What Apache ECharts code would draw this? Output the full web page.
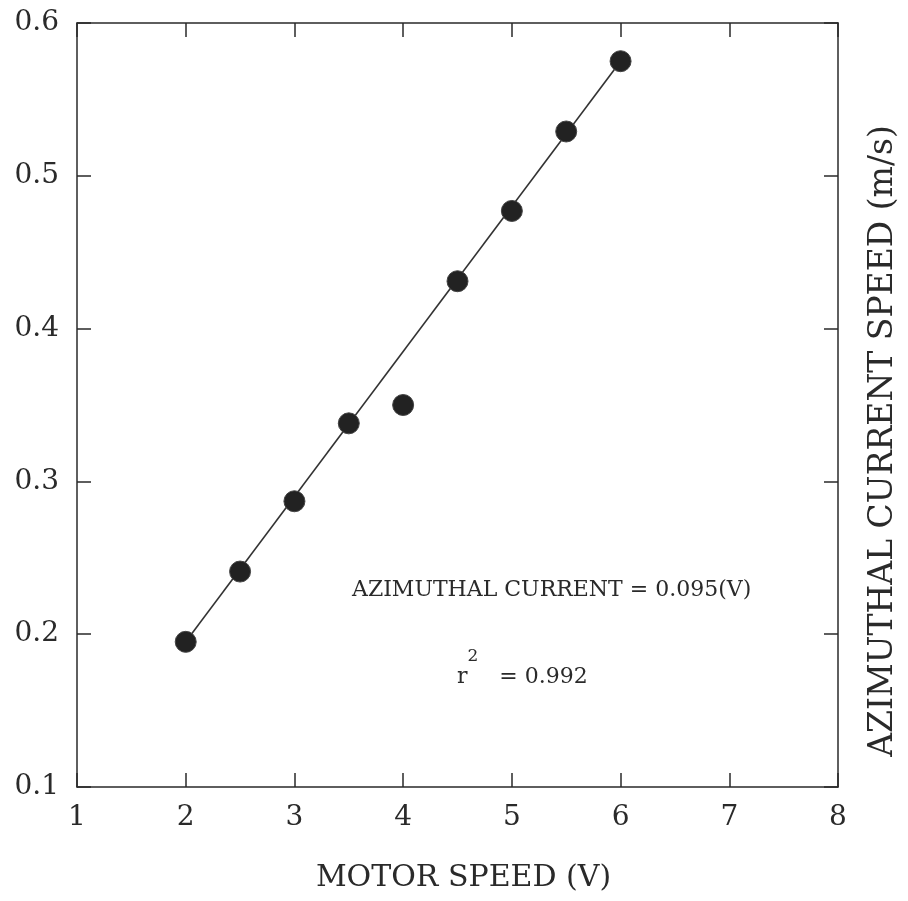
<!DOCTYPE html>
<html>
<head>
<meta charset="utf-8">
<script src="https://cdn.jsdelivr.net/npm/echarts@6/dist/echarts.min.js"></script>
<style>html,body{margin:0;padding:0;background:#fff;}#c{width:908px;height:901px;}</style>
</head>
<body>
<div id="c"></div>
<script>
// Data
const motorSpeed = [2, 2.5, 3, 3.5, 4, 4.5, 5, 5.5, 6];
const currentSpeed = [0.195, 0.241, 0.287, 0.338, 0.350, 0.431, 0.477, 0.529, 0.575];
const fitX = [2, 6];
const fitY = [0.195, 0.575];
const xTicks = [1, 2, 3, 4, 5, 6, 7, 8];
const yTicks = [0.1, 0.2, 0.3, 0.4, 0.5, 0.6];
const xTitle = 'MOTOR SPEED (V)';
const yTitle = 'AZIMUTHAL CURRENT SPEED (m/s)';
const eqText = 'AZIMUTHAL CURRENT = 0.095(V)';
const r2Text = '0.992';

const FONT = 'DejaVu Serif';
const INK = '#2a2a2a';
const chart = echarts.init(document.getElementById('c'), null, {renderer: 'canvas'});

const axisCommon = {
  type: 'value',
  axisLine: {show: true, onZero: false, lineStyle: {color: INK, width: 1.5}},
  axisTick: {show: true, inside: true, length: 14, lineStyle: {color: INK, width: 1.5}},
  splitLine: {show: false}
};

chart.setOption({
  backgroundColor: '#fff',
  animation: false,
  grid: {left: 77, right: 60, top: 23, bottom: 114, containLabel: false},
  xAxis: [
    Object.assign({}, axisCommon, {
      position: 'bottom', min: xTicks[0], max: xTicks[xTicks.length - 1], interval: 1,
      name: xTitle, nameLocation: 'middle', nameGap: 76,
      nameTextStyle: {fontFamily: FONT, fontSize: 30, color: INK, padding: [0, 0, 0, 12]},
      axisLabel: {margin: 17, fontFamily: FONT, fontSize: 28, color: INK}
    }),
    Object.assign({}, axisCommon, {
      position: 'top', min: xTicks[0], max: xTicks[xTicks.length - 1], interval: 1,
      axisLabel: {show: false}
    })
  ],
  yAxis: [
    Object.assign({}, axisCommon, {
      position: 'left', min: yTicks[0], max: yTicks[yTicks.length - 1], interval: 0.1,
      axisLabel: {margin: 18, fontFamily: FONT, fontSize: 28, color: INK,
        formatter: v => v.toFixed(1)}
    }),
    Object.assign({}, axisCommon, {
      position: 'right', min: yTicks[0], max: yTicks[yTicks.length - 1], interval: 0.1,
      axisLabel: {show: false},
      name: yTitle, nameLocation: 'middle', nameGap: 29, nameRotate: 90,
      nameTextStyle: {fontFamily: FONT, fontSize: 33, color: INK, padding: [0, 72, 0, 0]}
    })
  ],
  series: [
    {
      type: 'line',
      data: fitX.map((x, i) => [x, fitY[i]]),
      symbol: 'none',
      lineStyle: {color: '#333', width: 1.6},
      z: 2
    },
    {
      type: 'scatter',
      data: motorSpeed.map((x, i) => [x, currentSpeed[i]]),
      symbol: 'circle',
      symbolSize: 21,
      itemStyle: {color: '#222', borderColor: '#444', borderWidth: 1, opacity: 1},
      z: 3
    }
  ],
  graphic: [
    {
      type: 'text', left: 352, top: 579,
      style: {text: eqText, font: '22px "DejaVu Serif"', fill: INK}
    },
    {
      type: 'text', left: 457, top: 648,
      style: {
        text: '{a|r}{s|2}{a|   = ' + r2Text + '}',
        rich: {
          a: {font: '22px "DejaVu Serif"', fill: INK, color: INK, lineHeight: 40, verticalAlign: 'bottom'},
          s: {font: '17px "DejaVu Serif"', fill: INK, color: INK, verticalAlign: 'top', lineHeight: 40}
        }
      }
    }
  ]
});
</script>
</body>
</html>
